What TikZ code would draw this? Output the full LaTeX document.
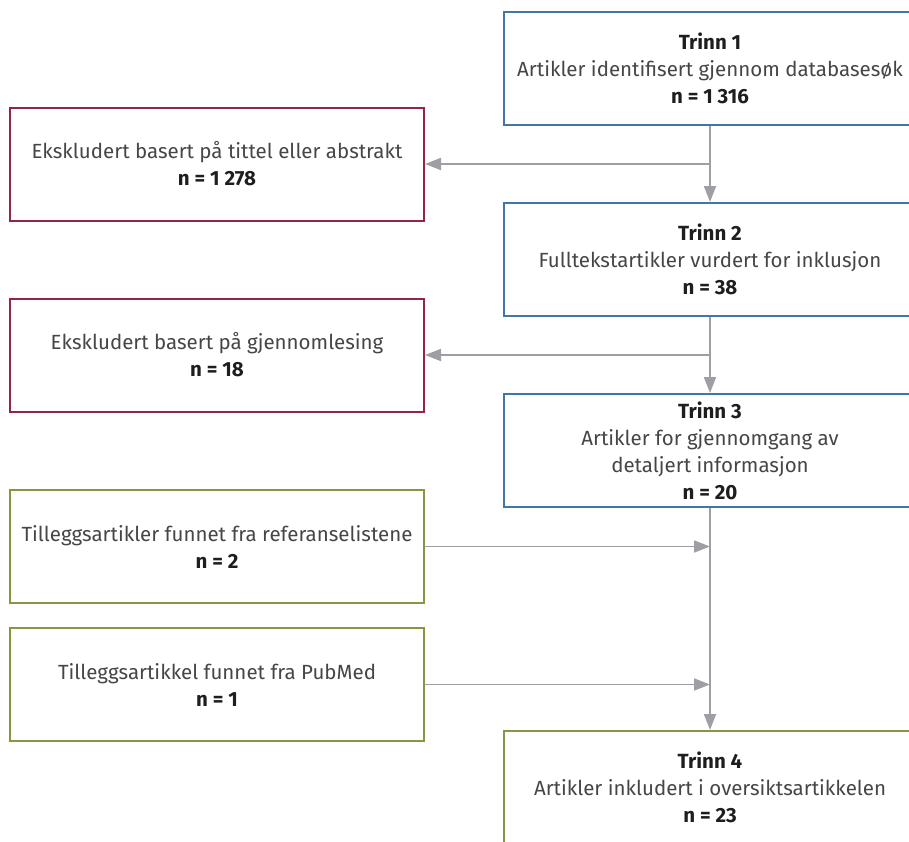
\documentclass[tikz,border=0pt]{standalone}
\usepackage{fontspec}
\setmainfont{Fira Sans}
\usetikzlibrary{positioning,arrows.meta}
\definecolor{TrinnBlue}{RGB}{66,118,168}
\definecolor{EksklRed}{RGB}{150,35,75}
\definecolor{TilleggGreen}{RGB}{135,150,65}
\definecolor{FlowGray}{RGB}{158,158,164}
\definecolor{TextGray}{RGB}{70,70,70}
\definecolor{TextDark}{RGB}{30,30,30}

\begin{document}
\begin{tikzpicture}[
    x=1pt, y=1pt,
    font=\fontsize{20.5}{27}\selectfont,
    flowarrow/.style={-{Triangle[length=16pt,width=12pt]}, line width=1.8pt, draw=FlowGray},
    box/.style={
        draw,
        line width=2pt,
        fill=white,
        align=center,
        text=TextGray,
        inner sep=0pt,
        minimum height=113pt
    },
    trinnbox/.style={box, draw=TrinnBlue, minimum width=412pt},
    eksklbox/.style={box, draw=EksklRed, minimum width=414pt},
    tilleggbox/.style={box, draw=TilleggGreen, minimum width=414pt},
    sluttbox/.style={box, draw=TilleggGreen, minimum width=412pt}
]
\newcommand{\tb}[1]{{\bfseries\color{TextDark}#1}}

% Page frame: the right column and the last box run past the edge.
\useasboundingbox (0,0) rectangle (909,-841);
\clip (0,0) rectangle (909,-841);

% Main column: the four steps.
\node[trinnbox] (trinn1) at (710,-68.5) {\tb{Trinn 1}\\
Artikler identifisert gjennom databasesøk\\
\tb{n = 1 316}};

\node[trinnbox] (trinn2) at (710,-259.5) {\tb{Trinn 2}\\
Fulltekstartikler vurdert for inklusjon\\
\tb{n = 38}};

\node[trinnbox] (trinn3) at (710,-450.5) {\tb{Trinn 3}\\
Artikler for gjennomgang av\\
detaljert informasjon\\
\tb{n = 20}};

\node[sluttbox] (trinn4) at (710,-787.5) {\tb{Trinn 4}\\
Artikler inkludert i oversiktsartikkelen\\
\tb{n = 23}};

% Left column: excluded articles.
\node[eksklbox] (ekskl1) at (217,-164) {Ekskludert basert på tittel eller abstrakt\\
\tb{n = 1 278}};

\node[eksklbox] (ekskl2) at (217,-355) {Ekskludert basert på gjennomlesing\\
\tb{n = 18}};

% Left column: additional articles.
\node[tilleggbox] (tillegg1) at (217,-546.5) {Tilleggsartikler funnet fra referanselistene\\
\tb{n = 2}};

\node[tilleggbox] (tillegg2) at (217,-684.5) {Tilleggsartikkel funnet fra PubMed\\
\tb{n = 1}};

% Flow down the main column.
\draw[flowarrow] (trinn1) -- (trinn2);
\draw[flowarrow] (trinn2) -- (trinn3);
\draw[flowarrow] (trinn3) -- (trinn4);

% Exclusions branch off to the left.
\draw[flowarrow] (trinn1 |- ekskl1) -- (ekskl1);
\draw[flowarrow] (trinn2 |- ekskl2) -- (ekskl2);

% Additions join from the left.
\draw[flowarrow] (tillegg1) -- (trinn3 |- tillegg1);
\draw[flowarrow] (tillegg2) -- (trinn3 |- tillegg2);

\end{tikzpicture}
\end{document}
